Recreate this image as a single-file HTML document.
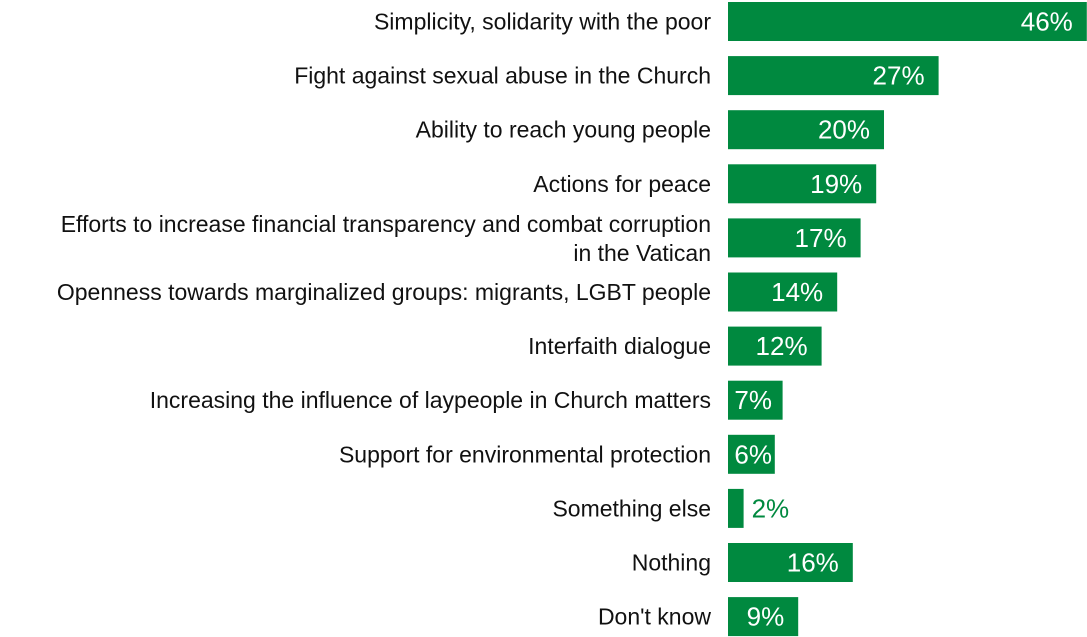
<!DOCTYPE html>
<html><head><meta charset="utf-8"><style>
html,body{margin:0;padding:0;background:#fff;}
svg{display:block;font-family:"Liberation Sans",Arial,sans-serif;}
</style></head><body>
<svg id="chart" width="1087" height="637" viewBox="0 0 1087 637"></svg>
<script>
const categories = [["Simplicity, solidarity with the poor"],["Fight against sexual abuse in the Church"],["Ability to reach young people"],["Actions for peace"],["Efforts to increase financial transparency and combat corruption","in the Vatican"],["Openness towards marginalized groups: migrants, LGBT people"],["Interfaith dialogue"],["Increasing the influence of laypeople in Church matters"],["Support for environmental protection"],["Something else"],["Nothing"],["Don't know"]];
const values = [46,27,20,19,17,14,12,7,6,2,16,9];
const svg = document.getElementById('chart');
const NS = 'http://www.w3.org/2000/svg';
const x0 = 728, pxPer = 7.8, rowTop = 2, pitch = 54.1, barH = 39, green = '#00893f';
function xScale(v){ return x0 + v*pxPer; }
function yScale(i){ return rowTop + i*pitch; }
categories.forEach((lines, i) => {
  const y = yScale(i), v = values[i], xe = xScale(v);
  const r = document.createElementNS(NS,'rect');
  
  
  r.setAttribute('x',x0); r.setAttribute('y',y);
  r.setAttribute('width',xe-x0); r.setAttribute('height',barH);
  r.setAttribute('fill',green);
  svg.appendChild(r);
  const t = document.createElementNS(NS,'text');
  
  
  t.setAttribute('text-anchor','end');
  t.setAttribute('font-size','23');
  t.setAttribute('fill','#111');
  if(lines.length===1){
    t.setAttribute('x',711); t.setAttribute('y',y+barH/2+8); t.textContent=lines[0];
  } else {
    lines.forEach((l,k)=>{
      const ts=document.createElementNS(NS,'tspan');
      ts.setAttribute('x',711); ts.setAttribute('y',y+barH/2-5+k*29-1);
      ts.textContent=l; t.appendChild(ts);
    });
  }
  svg.appendChild(t);
  const lv = document.createElementNS(NS,'text');
  
  
  lv.setAttribute('font-size','26');
  lv.setAttribute('y',y+barH/2+9);
  if(v<4){
    lv.setAttribute('x',xe+8); lv.setAttribute('fill',green);
  } else {
    lv.setAttribute('text-anchor','end');
    lv.setAttribute('x',Math.max(xe-14,x0+44)); lv.setAttribute('fill','#fff');
  }
  lv.textContent = v+'%';
  svg.appendChild(lv);
});
</script>
</body></html>
